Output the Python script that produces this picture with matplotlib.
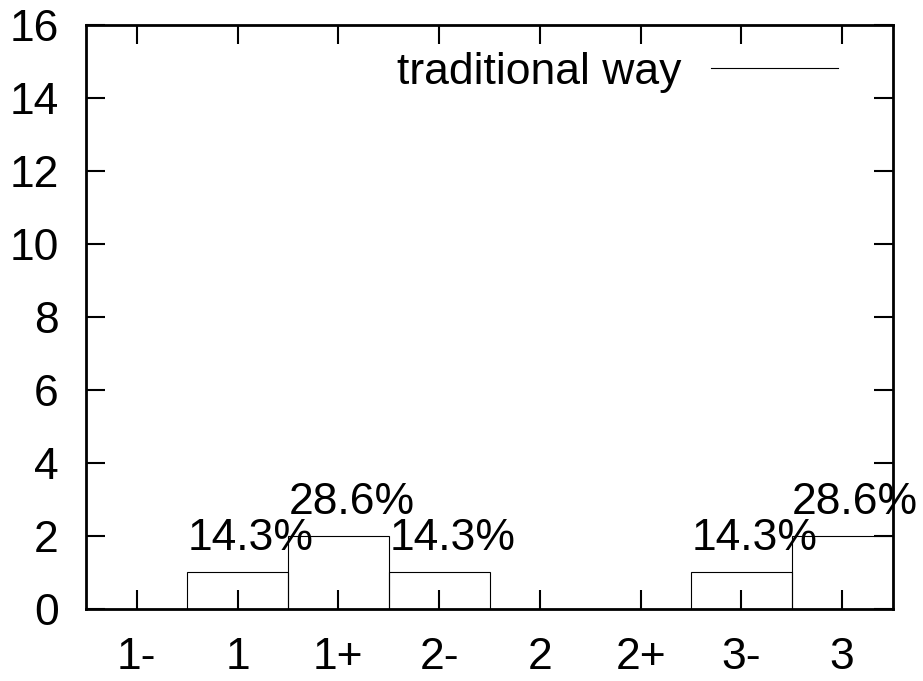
import matplotlib
matplotlib.use("Agg")
import matplotlib.pyplot as plt
from matplotlib.lines import Line2D

# data
categories = ['1-', '1', '1+', '2-', '2', '2+', '3-', '3']
counts = [0, 1, 2, 1, 0, 0, 1, 2]
series_name = 'traditional way'

total = sum(counts)

plt.rcParams['font.family'] = ['Liberation Sans', 'DejaVu Sans']
plt.rcParams['font.size'] = 32

fig = plt.figure(figsize=(9.23, 6.81), dpi=100)
ax = fig.add_axes([0.0937, 0.106, 0.8733, 0.8566])

x = list(range(len(categories)))
ax.bar(x, counts, width=1.0, facecolor='none', edgecolor='black', linewidth=0.8)

# percentage labels above the non-empty boxes
for xi, c in zip(x, counts):
    if c > 0:
        ax.text(xi + 0.13, c + 0.6, '%.1f%%' % (100.0 * c / total),
                ha='center', va='baseline')

ax.set_xlim(-0.5, len(categories) - 0.5)
ax.set_ylim(0, 16)
ax.set_xticks(x)
ax.set_xticklabels(categories)
ax.set_yticks(range(0, 17, 2))

for s in ax.spines.values():
    s.set_linewidth(2)
ax.tick_params(direction='in', length=13.5, width=1.5, top=True, right=True)
ax.tick_params(axis='y', pad=20)
ax.tick_params(axis='x', pad=20)

handle = Line2D([], [], color='black', linewidth=0.8)
ax.legend([handle], [series_name], loc='upper right', frameon=False,
          markerfirst=False, handlelength=2.85, handletextpad=0.67,
          borderpad=0, borderaxespad=0, bbox_to_anchor=(0.932, 0.955))

fig.savefig('out.png', dpi=100)
